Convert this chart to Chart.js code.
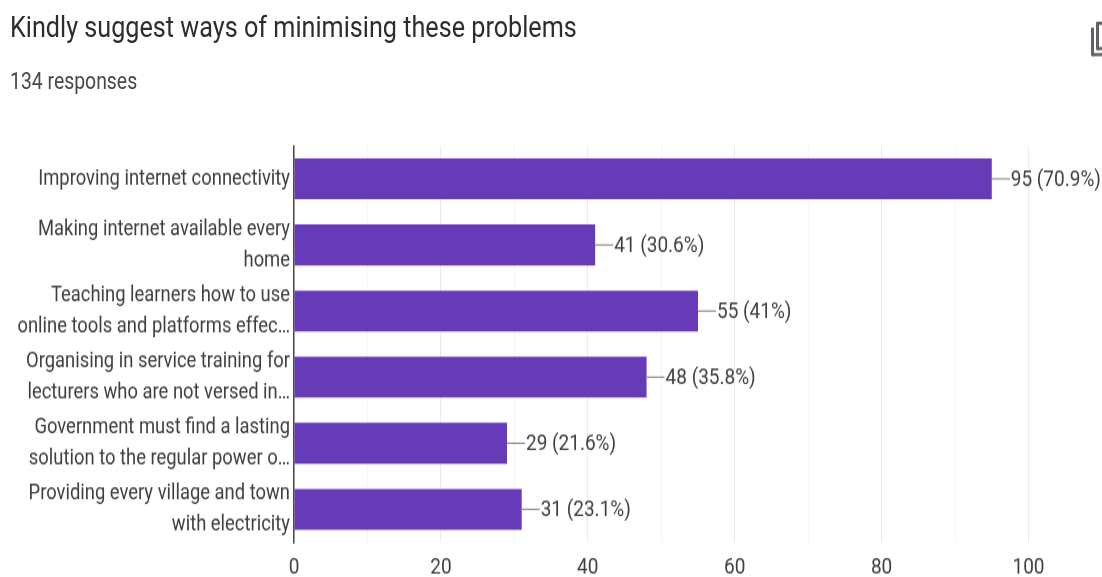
<!DOCTYPE html>
<html><head><meta charset="utf-8">
<script src="https://cdn.jsdelivr.net/npm/chart.js@4"></script>
<style>
html,body{margin:0;padding:0;background:#fff;overflow:hidden}
#page{position:absolute;left:0;top:0;width:1102px;height:481px;transform-origin:0 0;transform:scaleY(1.2);font-family:Roboto,sans-serif}
#title{position:absolute;left:10px;top:8px;font-size:25.2px;line-height:30px;color:#2b2d30;white-space:nowrap}
#sub{position:absolute;left:10px;top:56px;font-size:19.4px;line-height:24px;color:#46494d;white-space:nowrap}
#chartBox{position:absolute;left:0;top:0;width:1102px;height:481px}
#icon{position:absolute;left:1091px;top:23px;width:11px;height:24px;border-left:3px solid #5f6368;border-bottom:3px solid #5f6368;border-radius:0 0 0 2px;box-sizing:border-box}
#icon2{position:absolute;left:1096px;top:18px;width:6px;height:24px;border-left:3px solid #5f6368;border-top:3px solid #5f6368;border-bottom:3px solid #5f6368;border-radius:2px 0 0 2px;box-sizing:border-box}
</style></head><body>
<div id="page">
<div id="chartBox"><canvas id="c"></canvas></div>
<div id="title">Kindly suggest ways of minimising these problems</div>
<div id="sub">134 responses</div>
<div id="icon"></div><div id="icon2"></div>
</div>
<script>
const categories = [
  "Improving internet connectivity",
  ["Making internet available every","home"],
  ["Teaching learners how to use","online tools and platforms effec…"],
  ["Organising in service training for","lecturers who are not versed in…"],
  ["Government must find a lasting","solution to the regular power o…"],
  ["Providing every village and town","with electricity"]
];
const counts = [95,41,55,48,29,31];
const percents = ["70.9%","30.6%","41%","35.8%","21.6%","23.1%"];
const axisMax = 100;
const stepValue = 10;
const labelStep = 20;
const leader = {
  id:'leader',
  afterDatasetsDraw(ch){
    const ctx=ch.ctx, meta=ch.getDatasetMeta(0);
    ctx.save();
    meta.data.forEach((b,i)=>{
      ctx.strokeStyle='#8e8e8e';ctx.lineWidth=1.2;
      ctx.beginPath();ctx.moveTo(b.x,b.y);ctx.lineTo(b.x+18,b.y);ctx.stroke();
      ctx.fillStyle='#3c4043';ctx.font='19px Roboto';ctx.textAlign='left';ctx.textBaseline='middle';
      ctx.fillText(counts[i]+' ('+percents[i]+')',b.x+19,b.y+1);
    });
    ctx.restore();
  }
};
new Chart(document.getElementById('c'),{
  type:'bar',
  data:{labels:categories,datasets:[{data:counts,backgroundColor:'#673ab7',borderWidth:0,categoryPercentage:0.62,barPercentage:1}]},
  plugins:[leader],
  options:{
    indexAxis:'y',responsive:true,maintainAspectRatio:false,animation:false,
    layout:{padding:{top:121.5,right:73.5,left:0,bottom:0}},
    plugins:{legend:{display:false},tooltip:{enabled:false},title:{display:false}},
    scales:{
      y:{
        afterFit(s){s.width=294;},
        border:{color:'#4a4a4a',width:1.5},
        grid:{display:false,drawTicks:false},
        ticks:{color:'#3c4043',font:{family:'Roboto',size:18.4,lineHeight:1.42},padding:4,autoSkip:false}
      },
      x:{
        min:0,max:axisMax,
        afterFit(s){s.height=29;},
        border:{display:false},
        grid:{drawTicks:false,color:c=>c.tick&&c.tick.value%labelStep===0?'#ebebeb':'#f5f5f5'},
        ticks:{stepSize:stepValue,autoSkip:false,maxRotation:0,color:'#3c4043',padding:10,font:{family:'Roboto',size:19},
          callback:v=>v%labelStep===0?String(v):''}
      }
    }
  }
});
</script>
</body></html>
